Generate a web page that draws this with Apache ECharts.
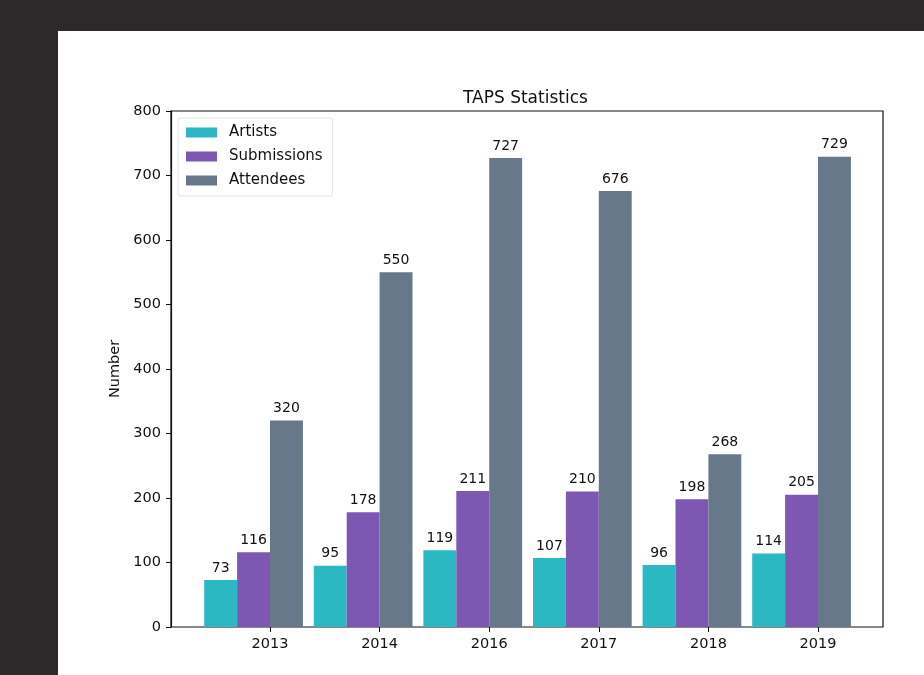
<!DOCTYPE html>
<html>
<head>
<meta charset="utf-8">
<title>TAPS Statistics</title>
<script src="https://cdn.jsdelivr.net/npm/echarts@6/dist/echarts.min.js"></script>
<style>
  html, body { margin: 0; padding: 0; background: #2d292b; }
  .paper {
    position: absolute;
    left: 58px;
    top: 31px;
    width: 866px;
    height: 644px;
    background: #fff;
  }
  #main { position: absolute; left: 0; top: 0; width: 924px; height: 675px; }
</style>
</head>
<body>
<div class="paper"></div>
<div id="main"></div>
<script>
// years on the x axis
const years = ['2013', '2014', '2016', '2017', '2018', '2019']
const artists = [73, 95, 119, 107, 96, 114]
const submissions = [116, 178, 211, 210, 198, 205]
const attendees = [320, 550, 727, 676, 268, 729]
const yTicks = { min: 0, max: 800, step: 100 }

const font = 'DejaVu Sans'
const chart = echarts.init(document.getElementById('main'), null, { renderer: 'canvas' })

const barLabel = {
  show: true,
  position: 'top',
  distance: 5,
  fontFamily: font,
  fontSize: 14,
  color: '#111'
}

function barSeries(name, data, color) {
  return {
    name: name,
    type: 'bar',
    xAxisIndex: 1,
    yAxisIndex: 1,
    clip: false,
    barWidth: 32.9,
    barGap: '0%',
    itemStyle: { color: color },
    label: barLabel,
    data: data
  }
}

chart.setOption({
  animation: false,
  title: {
    text: 'TAPS Statistics',
    left: 458,
    top: 85,
    textStyle: { fontFamily: font, fontSize: 17, fontWeight: 'normal', color: '#111' }
  },
  legend: {
    data: ['Artists', 'Submissions', 'Attendees'],
    orient: 'vertical',
    left: 178,
    top: 118,
    padding: [7, 10, 8, 8],
    icon: 'rect',
    itemWidth: 31,
    itemHeight: 10,
    itemGap: 9,
    borderColor: '#e4e4e4',
    borderWidth: 1,
    borderRadius: 3,
    textStyle: { fontFamily: font, fontSize: 15, color: '#111', padding: [0, 0, 0, 7] }
  },
  grid: [
    // frame of the plot
    { left: 171, top: 111, width: 712, height: 516, show: true, borderColor: '#111', borderWidth: 1.2 },
    // bar area: bands 109.6 px wide, first tick at x=270
    { left: 215.2, top: 111, width: 657.6, height: 516 }
  ],
  xAxis: [
    { type: 'value', gridIndex: 0, show: false },
    {
      type: 'category',
      gridIndex: 1,
      data: years,
      axisLine: { show: false },
      axisTick: { show: true, alignWithLabel: true, length: 5, lineStyle: { color: '#111' } },
      axisLabel: { fontFamily: font, fontSize: 14.5, color: '#111', margin: 10 }
    }
  ],
  yAxis: [
    {
      type: 'value',
      gridIndex: 0,
      min: yTicks.min,
      max: yTicks.max,
      interval: yTicks.step,
      name: 'Number',
      nameLocation: 'middle',
      nameGap: 46,
      nameTextStyle: { fontFamily: font, fontSize: 14.5, color: '#111' },
      axisLine: { show: true, lineStyle: { color: '#111', width: 1.2 } },
      axisTick: { show: true, length: 5, lineStyle: { color: '#111' } },
      axisLabel: { fontFamily: font, fontSize: 14.5, color: '#111', margin: 10 },
      splitLine: { show: false }
    },
    { type: 'value', gridIndex: 1, min: yTicks.min, max: yTicks.max, show: false }
  ],
  series: [
    barSeries('Artists', artists, '#2bb8c3'),
    barSeries('Submissions', submissions, '#7e57b2'),
    barSeries('Attendees', attendees, '#67788a'),
    // empty slot so the tick sits between Submissions and Attendees
    barSeries('', years.map(() => null), 'rgba(0,0,0,0)')
  ]
})
</script>
</body>
</html>
